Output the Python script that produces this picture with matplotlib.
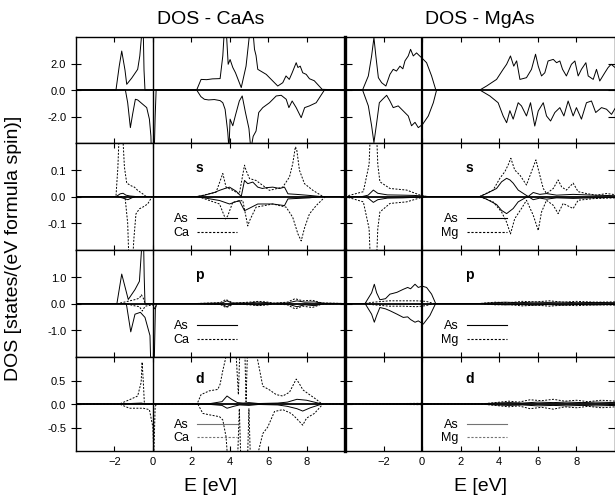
import numpy as np
import matplotlib
matplotlib.use('Agg')
import matplotlib.pyplot as plt

plt.rcParams['font.family'] = ['Liberation Sans', 'DejaVu Sans']

# ---- data: (E [eV], DOS) ----
# total DOS, CaAs
caas_tot_up = [(-4, 0), (-1.92, 0), (-1.75, 1.8), (-1.62, 2.94), (-1.45, 1.5), (-1.36, 0.43), (-1.1, 0.9),
               (-0.79, 1.56), (-0.68, 2.57), (-0.6, 3.9), (-0.55, 5.5), (-0.5, 4.5), (-0.46, 1.5), (-0.41, 0),
               (2.28, 0), (2.51, 0.8), (2.8, 0.78), (3.1, 0.84), (3.5, 0.86), (3.64, 2.57), (3.72, 4.5),
               (3.8, 5.0), (3.92, 1.94), (4.02, 2.3), (4.16, 1.7), (4.3, 1.3), (4.6, 0.18), (4.85, 1.8),
               (5.0, 3.8), (5.1, 5.2), (5.2, 4.6), (5.29, 3.07), (5.37, 2.6), (5.46, 1.56), (5.9, 1.18),
               (6.5, 0.3), (6.76, 0.55), (6.93, 1.06), (7.1, 0.8), (7.25, 1.3), (7.46, 2.06), (7.55, 1.7),
               (7.67, 1.8), (7.8, 1.3), (7.98, 1.18), (8.15, 0.85), (8.4, 0.7), (8.81, 0.05), (10, 0)]
caas_tot_dn = [(-4, 0), (-1.43, 0), (-1.31, -0.96), (-1.17, -2.84), (-1.05, -1.8), (-0.91, -0.7),
               (-0.79, -0.75), (-0.62, -0.96), (-0.32, -1.33), (-0.18, -2.2), (-0.1, -3.5), (-0.06, -6),
               (0.05, -6), (0.12, -2), (0.17, 0), (2.28, 0), (2.5, -0.5), (2.68, -0.7), (2.9, -0.75),
               (3.2, -0.72), (3.5, -0.8), (3.64, -0.96), (3.76, -1.46), (3.9, -3.2), (3.96, -4.5),
               (4.02, -2.2), (4.16, -2.7), (4.3, -1.9), (4.5, -0.83), (4.65, -0.45), (4.82, -1.7),
               (5.0, -2.9), (5.1, -4.5), (5.22, -3.5), (5.37, -3.1), (5.51, -1.7), (5.72, -1.33),
               (6.07, -0.96), (6.42, -0.45), (6.68, -0.4), (6.94, -0.7), (7.08, -1.33), (7.25, -0.83),
               (7.46, -1.33), (7.72, -2.09), (7.9, -1.33), (8.15, -1.2), (8.5, -0.96), (8.93, 0), (10, 0)]
# total DOS, MgAs
mgas_tot_up = [(-4, 0), (-3.09, 0), (-2.79, 1.06), (-2.62, 2.57), (-2.5, 3.95), (-2.4, 2.57), (-2.27, 0.93),
               (-2.1, 0.55), (-1.88, 0.3), (-1.67, 1.18), (-1.5, 1.56), (-1.33, 1.43), (-1.15, 1.8),
               (-1.0, 1.6), (-0.89, 2.2), (-0.72, 2.57), (-0.6, 3.07), (-0.46, 2.57), (-0.29, 2.8),
               (-0.15, 2.6), (-0.03, 2.44), (0.23, 2.06), (0.49, 1.06), (0.71, 0), (2.99, 0), (3.34, 0.3),
               (3.86, 0.8), (4.2, 1.56), (4.38, 1.94), (4.58, 2.57), (4.75, 1.8), (4.9, 2.2), (5.07, 0.8),
               (5.41, 0.93), (5.67, 1.56), (5.88, 2.7), (6.02, 1.8), (6.19, 1.06), (6.36, 1.3), (6.53, 2.19),
               (6.8, 2.31), (6.97, 2.06), (7.14, 2.19), (7.28, 1.56), (7.48, 1.06), (7.74, 1.94),
               (7.92, 2.19), (8.09, 1.06), (8.26, 1.56), (8.49, 2.06), (8.61, 1.06), (8.87, 0.8),
               (9.04, 1.56), (9.21, 0.68), (9.47, 1.3), (9.64, 1.69), (9.8, 1.94), (10, 1.7)]
mgas_tot_dn = [(-4, 0), (-3.09, 0), (-2.79, -1.2), (-2.62, -2.7), (-2.5, -3.97), (-2.36, -2.5),
               (-2.22, -0.96), (-2.05, -0.7), (-1.84, -0.4), (-1.67, -0.83), (-1.5, -1.33), (-1.24, -1.2),
               (-0.98, -1.58), (-0.72, -1.96), (-0.55, -2.7), (-0.37, -2.44), (-0.2, -2.84), (0.02, -2.6),
               (0.32, -1.96), (0.58, -0.96), (0.75, 0), (2.99, 0), (3.51, -0.45), (3.94, -0.96),
               (4.2, -1.96), (4.38, -2.47), (4.55, -1.56), (4.72, -2.2), (4.98, -0.96), (5.15, -1.2),
               (5.41, -1.96), (5.62, -0.96), (5.84, -2.72), (6.02, -1.58), (6.28, -0.96), (6.45, -1.96),
               (6.66, -2.34), (6.88, -1.7), (7.14, -1.33), (7.35, -1.96), (7.57, -0.83), (7.83, -1.96),
               (8.0, -1.33), (8.26, -2.2), (8.52, -0.96), (8.78, -0.83), (9.0, -1.7), (9.3, -1.33),
               (9.56, -1.45), (9.82, -1.84), (10, -1.4)]

# s projected DOS
caas_s_as_up = [(-4, 0), (-1.9, 0), (-1.7, 0.01), (-1.55, 0.012), (-1.4, 0.005), (-1.2, 0.002), (-0.9, 0),
                (2.3, 0), (2.7, 0.005), (2.94, 0.01), (3.2, 0.015), (3.47, 0.023), (3.75, 0.03), (3.99, 0.035),
                (4.33, 0.02), (4.6, 0), (4.77, 0.06), (4.94, 0.048), (5.2, 0.054), (5.46, 0.035), (5.7, 0.03),
                (5.9, 0.033), (6.24, 0.035), (6.6, 0.03), (6.85, 0.035), (7.03, 0.01), (7.46, 0.008),
                (8.15, 0.004), (8.7, 0), (10, 0)]
caas_s_as_dn = [(-4, 0), (-1.9, 0), (-1.6, -0.005), (-1.3, -0.012), (-1.1, -0.005), (-0.9, 0), (2.3, 0),
                (2.9, -0.008), (3.47, -0.015), (3.99, -0.028), (4.5, -0.015), (4.77, -0.053), (4.94, -0.047),
                (5.46, -0.028), (6.24, -0.028), (6.85, -0.034), (7.03, -0.009), (8.15, -0.005), (8.7, 0),
                (10, 0)]
caas_s_ca_up = [(-4, 0), (-1.92, 0), (-1.82, 0.11), (-1.72, 0.3), (-1.62, 0.3), (-1.48, 0.11), (-1.36, 0.05),
                (-1.13, 0.04), (-0.96, 0.035), (-0.79, 0.023), (-0.53, 0.01), (-0.35, 0), (2.34, 0),
                (3.29, 0.016), (3.64, 0.086), (3.81, 0.035), (4.16, 0.023), (4.5, 0.01), (4.77, 0.117),
                (4.85, 0.098), (5.03, 0.067), (5.37, 0.06), (6.07, 0.023), (6.76, 0.035), (7.11, 0.073),
                (7.28, 0.123), (7.42, 0.186), (7.49, 0.174), (7.63, 0.098), (7.89, 0.048), (8.33, 0.023),
                (8.85, 0), (10, 0)]
caas_s_ca_dn = [(-4, 0), (-1.45, 0), (-1.31, -0.1), (-1.22, -0.3), (-1.1, -0.3), (-0.99, -0.16),
                (-0.88, -0.065), (-0.7, -0.046), (-0.53, -0.04), (-0.27, -0.028), (-0.04, 0), (2.34, 0),
                (3.47, -0.028), (3.78, -0.084), (3.9, -0.072), (4.16, -0.021), (4.68, -0.015), (4.94, -0.11),
                (5.03, -0.091), (5.37, -0.04), (6.24, -0.028), (6.94, -0.04), (7.28, -0.078), (7.55, -0.14),
                (7.72, -0.166), (7.9, -0.116), (8.15, -0.065), (8.5, -0.034), (8.98, 0), (10, 0)]
mgas_s_as_up = [(-4, 0), (-3.1, 0), (-2.8, 0.005), (-2.53, 0.024), (-2.3, 0.012), (-1.8, 0.006),
                (-1.0, 0.005), (-0.4, 0.004), (0.0, 0.002), (0.3, 0), (2.99, 0), (3.34, 0.011), (3.86, 0.03),
                (4.12, 0.055), (4.38, 0.068), (4.55, 0.062), (4.72, 0.05), (4.98, 0.024), (5.32, 0.008),
                (5.5, 0), (5.76, 0.015), (6.1, 0.008), (6.45, 0.011), (6.97, 0.005), (7.83, 0.008),
                (8.87, 0.005), (10, 0.003)]
mgas_s_as_dn = [(-4, 0), (-3.1, 0), (-2.8, -0.006), (-2.53, -0.022), (-2.3, -0.012), (-1.8, -0.006),
                (-1.0, -0.005), (0.0, -0.002), (0.3, 0), (2.99, 0), (3.34, -0.01), (3.86, -0.03),
                (4.12, -0.052), (4.38, -0.064), (4.72, -0.045), (4.98, -0.02), (5.32, -0.006), (5.5, 0),
                (5.76, -0.012), (6.1, -0.006), (6.45, -0.01), (6.97, -0.005), (7.83, -0.007), (10, -0.003)]
mgas_s_mg_up = [(-4, 0), (-3.05, 0.018), (-2.75, 0.12), (-2.6, 0.4), (-2.45, 0.4), (-2.3, 0.12),
                (-2.19, 0.055), (-1.67, 0.03), (-0.8, 0.024), (-0.1, 0.005), (0.2, 0), (2.99, 0),
                (3.68, 0.024), (4.03, 0.068), (4.29, 0.093), (4.46, 0.118), (4.6, 0.143), (4.8, 0.099),
                (5.07, 0.08), (5.41, 0.043), (5.67, 0.093), (5.9, 0.137), (6.1, 0.08), (6.28, 0.03),
                (6.45, 0.011), (6.8, 0.03), (7.05, 0.062), (7.23, 0.036), (7.48, 0.024), (7.83, 0.05),
                (8.09, 0.018), (8.52, 0.011), (9.04, 0.005), (9.56, 0.011), (10, 0.007)]
mgas_s_mg_dn = [(-4, 0), (-3.05, -0.02), (-2.75, -0.12), (-2.6, -0.4), (-2.45, -0.4), (-2.3, -0.12),
                (-2.19, -0.058), (-1.67, -0.026), (-0.8, -0.02), (-0.1, -0.005), (0.2, 0), (2.99, 0),
                (3.68, -0.02), (4.12, -0.058), (4.38, -0.096), (4.58, -0.14), (4.8, -0.083), (5.15, -0.045),
                (5.41, -0.014), (5.76, -0.07), (6.02, -0.127), (6.19, -0.058), (6.45, -0.014), (6.8, -0.033),
                (7.05, -0.064), (7.31, -0.026), (7.83, -0.045), (8.09, -0.014), (8.87, -0.008), (10, -0.005)]

# p projected DOS
caas_p_as_up = [(-4, 0), (-1.87, 0), (-1.62, 1.1), (-1.28, 0.15), (-0.93, 0.52), (-0.7, 0.83), (-0.6, 1.9),
                (-0.55, 3.0), (-0.5, 3.0), (-0.45, 1.0), (-0.41, 0), (2.3, 0), (3.6, 0.02), (3.85, 0.1),
                (4.1, 0.02), (5.0, 0.02), (5.4, 0.05), (5.8, 0.04), (6.2, 0.01), (7.0, 0.02), (7.5, 0.1),
                (7.9, 0.05), (8.4, 0.06), (8.9, 0.01), (10, 0)]
caas_p_as_dn = [(-4, 0), (-1.4, 0), (-1.36, -0.1), (-1.15, -1.06), (-0.93, -0.4), (-0.65, -0.33),
                (-0.41, -0.52), (-0.15, -1.2), (-0.08, -3.0), (0.05, -3.0), (0.13, -0.2), (0.2, 0), (2.3, 0),
                (3.6, -0.03), (3.85, -0.12), (4.1, -0.02), (5.0, -0.02), (5.4, -0.06), (5.8, -0.04),
                (6.2, -0.01), (7.0, -0.02), (7.5, -0.12), (7.9, -0.05), (8.4, -0.08), (8.9, -0.01), (10, 0)]
caas_p_ca_up = [(-4, 0), (-1.8, 0), (-1.5, 0.05), (-1.2, 0.1), (-0.9, 0.15), (-0.7, 0.2), (-0.6, 0.33),
                (-0.5, 0.2), (-0.4, 0), (2.3, 0), (3.5, 0.03), (3.8, 0.15), (4.0, 0.08), (4.2, 0.01),
                (5.0, 0.05), (5.5, 0.08), (6.0, 0.05), (6.3, 0.01), (7.0, 0.05), (7.4, 0.18), (7.8, 0.1),
                (8.3, 0.12), (8.8, 0.02), (10, 0)]
caas_p_ca_dn = [(-4, 0), (-1.4, 0), (-1.0, -0.08), (-0.7, -0.12), (-0.55, -0.28), (-0.4, -0.1), (0.0, -0.05),
                (0.1, -0.2), (0.2, 0), (2.3, 0), (3.5, -0.03), (3.8, -0.15), (4.0, -0.1), (4.2, -0.01),
                (5.0, -0.05), (5.5, -0.08), (6.0, -0.05), (6.3, -0.01), (7.0, -0.05), (7.4, -0.2),
                (7.8, -0.1), (8.3, -0.15), (8.8, -0.02), (10, 0)]
mgas_p_as_up = [(-4, 0), (-2.96, 0), (-2.62, 0.4), (-2.48, 0.72), (-2.36, 0.4), (-2.19, 0.14), (-1.9, 0.18),
                (-1.67, 0.35), (-1.5, 0.38), (-1.3, 0.42), (-0.98, 0.53), (-0.75, 0.6), (-0.6, 0.55),
                (-0.37, 0.72), (-0.2, 0.6), (0.0, 0.65), (0.23, 0.6), (0.49, 0.35), (0.7, 0), (3.0, 0),
                (3.8, 0.03), (4.3, 0.05), (5.0, 0.03), (5.8, 0.05), (6.5, 0.04), (7.3, 0.05), (8.0, 0.03),
                (9.0, 0.04), (10, 0.03)]
mgas_p_as_dn = [(-4, 0), (-2.96, 0), (-2.62, -0.4), (-2.48, -0.7), (-2.36, -0.45), (-2.19, -0.15),
                (-1.9, -0.2), (-1.67, -0.27), (-1.3, -0.4), (-0.98, -0.52), (-0.75, -0.5), (-0.6, -0.6),
                (-0.37, -0.7), (-0.2, -0.65), (0.06, -0.77), (0.4, -0.45), (0.7, 0), (3.0, 0), (3.8, -0.03),
                (4.3, -0.05), (5.0, -0.04), (5.8, -0.06), (6.5, -0.04), (7.3, -0.06), (8.0, -0.04),
                (9.0, -0.05), (10, -0.03)]
mgas_p_mg_up = [(-4, 0), (-3.0, 0), (-2.5, 0.05), (-1.7, 0.1), (-1.0, 0.1), (-0.3, 0.1), (0.2, 0.08),
                (0.6, 0), (3.0, 0), (3.8, 0.05), (4.5, 0.03), (5.2, 0.08), (5.9, 0.06), (6.6, 0.1),
                (7.3, 0.05), (8.0, 0.08), (9.0, 0.05), (10, 0.06)]
mgas_p_mg_dn = [(-4, 0), (-3.0, 0), (-2.5, -0.05), (-1.7, -0.1), (-1.0, -0.1), (-0.3, -0.12), (0.2, -0.08),
                (0.6, 0), (3.0, 0), (3.8, -0.05), (4.5, -0.04), (5.2, -0.09), (5.9, -0.06), (6.6, -0.1),
                (7.3, -0.06), (8.0, -0.08), (9.0, -0.05), (10, -0.06)]

# d projected DOS
caas_d_as_up = [(-4, 0), (-1.8, 0), (-1.2, 0.01), (-0.6, 0.02), (-0.4, 0), (2.3, 0), (3.0, 0.01),
                (3.6, 0.05), (3.86, 0.17), (4.1, 0.1), (4.4, 0.03), (4.7, 0.02), (5.0, 0.03), (5.5, 0.01),
                (6.5, 0.02), (7.0, 0.04), (7.5, 0.1), (8.0, 0.08), (8.5, 0.03), (8.8, 0), (10, 0)]
caas_d_as_dn = [(-4, 0), (-0.4, 0), (2.3, 0), (3.0, -0.01), (3.6, -0.03), (3.86, -0.09), (4.2, -0.05),
                (4.5, -0.02), (5.0, -0.03), (5.5, -0.01), (6.5, -0.02), (7.0, -0.05), (7.5, -0.1),
                (7.8, -0.15), (8.2, -0.08), (8.5, -0.04), (8.8, 0), (10, 0)]
caas_d_ca_up = [(-4, 0), (-1.74, 0), (-1.22, 0.09), (-0.79, 0.17), (-0.61, 0.46), (-0.56, 0.89), (-0.5, 0.5),
                (-0.44, 0), (2.3, 0), (2.51, 0.2), (2.94, 0.28), (3.38, 0.31), (3.5, 0.42), (3.64, 0.71),
                (3.78, 0.96), (3.9, 1.3), (4.1, 1.8), (4.3, 1.3), (4.45, 0.2), (4.55, 1.4), (4.75, 1.8),
                (4.85, 0.05), (4.95, 1.5), (5.2, 2.0), (5.4, 1.05), (5.72, 0.38), (6.07, 0.3), (6.42, 0.2),
                (6.76, 0.17), (7.11, 0.25), (7.46, 0.53), (7.6, 0.45), (7.81, 0.3), (8.15, 0.2), (8.5, 0.1),
                (8.8, 0), (10, 0)]
caas_d_ca_dn = [(-4, 0), (-1.74, 0), (-1.22, -0.09), (-0.5, -0.09), (-0.18, -0.12), (0.0, -0.49),
                (0.05, -1.1), (0.12, -0.05), (0.2, 0), (2.34, 0), (2.6, -0.2), (2.94, -0.23), (3.47, -0.27),
                (3.64, -0.34), (3.81, -0.7), (3.95, -1.5), (4.2, -2.0), (4.4, -1.3), (4.5, -0.1), (4.6, -1.5),
                (4.75, -2.0), (4.9, -1.6), (5.0, -0.1), (5.1, -1.5), (5.3, -2.0), (5.46, -1.07), (5.72, -0.63),
                (5.98, -0.49), (6.33, -0.16), (6.76, -0.12), (7.2, -0.2), (7.46, -0.3), (7.8, -0.45),
                (8.0, -0.3), (8.41, -0.2), (8.85, 0), (10, 0)]
mgas_d_as_up = [(-4, 0), (-2.5, 0.005), (0, 0.01), (0.3, 0), (3.0, 0), (3.8, 0.02), (4.5, 0.03), (5.2, 0.02),
                (6.0, 0.04), (6.8, 0.03), (7.5, 0.04), (8.3, 0.03), (9.0, 0.04), (10, 0.03)]
mgas_d_as_dn = [(-4, 0), (-2.5, -0.005), (0, -0.01), (0.3, 0), (3.0, 0), (3.8, -0.02), (4.5, -0.03),
                (5.2, -0.02), (6.0, -0.04), (6.8, -0.03), (7.5, -0.04), (8.3, -0.03), (9.0, -0.04), (10, -0.03)]
mgas_d_mg_up = [(-4, 0), (-2.5, 0.01), (-1, 0.01), (0, 0.015), (0.3, 0), (3.0, 0), (3.8, 0.03), (4.5, 0.06),
                (5.0, 0.04), (5.6, 0.09), (6.2, 0.07), (6.8, 0.1), (7.4, 0.06), (8.0, 0.08), (8.6, 0.05),
                (9.3, 0.08), (10, 0.06)]
mgas_d_mg_dn = [(-4, 0), (-2.5, -0.01), (-1, -0.01), (0, -0.015), (0.3, 0), (3.0, 0), (3.8, -0.03),
                (4.5, -0.06), (5.0, -0.04), (5.6, -0.1), (6.2, -0.07), (6.8, -0.11), (7.4, -0.06),
                (8.0, -0.08), (8.6, -0.05), (9.3, -0.08), (10, -0.06)]

titles = ['DOS - CaAs', 'DOS - MgAs']
cations = ['Ca', 'Mg']
orbitals = ['s', 'p', 'd']
row_ylims = [(-4, 4), (-0.2, 0.2), (-2, 2), (-1, 1)]
row_yticks = [[-2, 0, 2], [-0.1, 0, 0.1], [-1, 0, 1], [-0.5, 0, 0.5]]
xticks = [-2, 0, 2, 4, 6, 8]

panels = {
    (0, 0): [caas_tot_up, caas_tot_dn],
    (0, 1): [mgas_tot_up, mgas_tot_dn],
    (1, 0): [caas_s_as_up, caas_s_as_dn, caas_s_ca_up, caas_s_ca_dn],
    (1, 1): [mgas_s_as_up, mgas_s_as_dn, mgas_s_mg_up, mgas_s_mg_dn],
    (2, 0): [caas_p_as_up, caas_p_as_dn, caas_p_ca_up, caas_p_ca_dn],
    (2, 1): [mgas_p_as_up, mgas_p_as_dn, mgas_p_mg_up, mgas_p_mg_dn],
    (3, 0): [caas_d_as_up, caas_d_as_dn, caas_d_ca_up, caas_d_ca_dn],
    (3, 1): [mgas_d_as_up, mgas_d_as_dn, mgas_d_mg_up, mgas_d_mg_dn],
}

W, H = 615., 502.
fig = plt.figure(figsize=(W / 100, H / 100), dpi=100)

col_px = [(76, 269), (345, 270)]
row_px = [(38, 144), (144, 251), (251, 358), (358, 452)]
dotted = (0, (2, 1.5))

for r in range(4):
    for c in range(2):
        x0, w = col_px[c]
        top, bot = row_px[r]
        ax = fig.add_axes([x0 / W, 1 - bot / H, w / W, (bot - top) / H])
        curves = panels[(r, c)]
        for k, cur in enumerate(curves):
            e, v = np.array(cur).T
            ls = '-' if k < 2 else dotted
            ax.plot(e, v, color='black', lw=0.7, ls=ls)
        ax.axhline(0, color='black', lw=1.3)
        ax.axvline(0, color='black', lw=1.0 if c == 0 else 1.6)
        ax.set_xlim(-4, 10)
        ax.set_ylim(*row_ylims[r])
        ax.set_xticks(xticks)
        ax.set_yticks(row_yticks[r])
        ax.tick_params(axis='x', direction='in', top=True, length=3.5, width=0.8, labelsize=8)
        if c == 0:
            ax.set_yticklabels(['%.1f' % t for t in row_yticks[r]])
            ax.tick_params(axis='y', direction='inout', length=7, width=0.8, right=True, labelsize=8)
        else:
            ax.tick_params(axis='y', direction='in', length=5, width=0.8, right=True, labelleft=False)
            ax.spines['left'].set_linewidth(2.4)
        for sp in ['top', 'bottom', 'right']:
            ax.spines[sp].set_linewidth(1.0)
        if c == 0:
            ax.spines['left'].set_linewidth(1.0)
        if r < 3:
            ax.tick_params(axis='x', labelbottom=False)
        else:
            ax.set_xlabel('E [eV]', fontsize=14, labelpad=8)
        if r == 0:
            ax.set_title(titles[c], fontsize=14, pad=10)
        else:
            ax.text(0.46, 0.78, orbitals[r - 1], transform=ax.transAxes, fontsize=10,
                    fontweight='bold', ha='center', va='center')
            lc = '0.45' if r == 3 else 'black'
            ly = [0.30, 0.168] if r < 3 else [0.29, 0.15]
            for lab, yy, ls in zip(['As', cations[c]], ly, ['-', dotted]):
                ax.plot([0.45, 0.60], [yy, yy], transform=ax.transAxes, color=lc, lw=0.8, ls=ls)
                ax.text(0.42, yy, lab, transform=ax.transAxes, fontsize=9, ha='right', va='center')

fig.text(0.022, 0.505, 'DOS [states/(eV formula spin)]', rotation=90, fontsize=14, ha='center', va='center')

fig.savefig('out.png', dpi=100)
